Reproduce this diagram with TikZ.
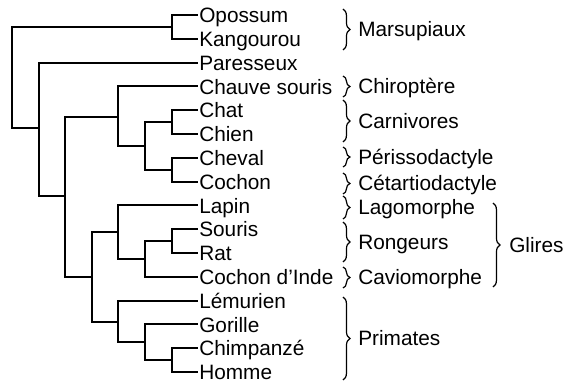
\documentclass[tikz,border=0pt]{standalone}
\usepackage{fontspec}
\setmainfont{Liberation Sans}
\usetikzlibrary{decorations.pathreplacing}
\begin{document}
\begin{tikzpicture}[x=0.75pt,y=-0.75pt,
  branch/.style={line width=1.5pt, line join=miter},
  taxon/.style={anchor=base west, inner sep=0pt, font=\fontsize{15.6pt}{18pt}\selectfont},
  grp/.style={decorate, decoration={brace, amplitude=5.2pt}, line width=0.9pt},
  grplabel/.style={anchor=base west, inner sep=0pt, font=\fontsize{15.6pt}{18pt}\selectfont}]
\useasboundingbox (0,0) rectangle (565,381);

% leaves
\foreach \i/\nm in {0/Opossum, 1/Kangourou, 2/Paresseux, 3/Chauve souris,
  4/Chat, 5/Chien, 6/Cheval, 7/Cochon, 8/Lapin, 9/Souris, 10/Rat,
  11/Cochon d’Inde, 12/Lémurien, 13/Gorille, 14/Chimpanzé, 15/Homme} {
  \coordinate (l\i) at (198, {15+23.8*\i});
  \node[taxon] (t\i) at (199, {22.8+23.8*\i}) {\nm};
}

% internal nodes
\coordinate (R)  at (12, 77);
\coordinate (M)  at (172, 27);
\coordinate (P)  at (39, 128);
\coordinate (B)  at (65, 196);
\coordinate (L)  at (118, 117);
\coordinate (F)  at (145, 146);
\coordinate (CC) at (172, 122);
\coordinate (CV) at (172, 170);
\coordinate (E)  at (92, 277);
\coordinate (G)  at (118, 232);
\coordinate (Ro) at (145, 259);
\coordinate (SR) at (172, 241);
\coordinate (Pr) at (118, 322);
\coordinate (Ha) at (145, 342);
\coordinate (CH) at (172, 360);

\draw[branch] (R) |- (M);
\draw[branch] (R) |- (P);
\draw[branch] (M) |- (l0);
\draw[branch] (M) |- (l1);
\draw[branch] (P) |- (l2);
\draw[branch] (P) |- (B);
\draw[branch] (B) |- (L);
\draw[branch] (B) |- (E);
\draw[branch] (L) |- (l3);
\draw[branch] (L) |- (F);
\draw[branch] (F) |- (CC);
\draw[branch] (F) |- (CV);
\draw[branch] (CC) |- (l4);
\draw[branch] (CC) |- (l5);
\draw[branch] (CV) |- (l6);
\draw[branch] (CV) |- (l7);
\draw[branch] (E) |- (G);
\draw[branch] (E) |- (Pr);
\draw[branch] (G) |- (l8);
\draw[branch] (G) |- (Ro);
\draw[branch] (Ro) |- (SR);
\draw[branch] (Ro) |- (l11);
\draw[branch] (SR) |- (l9);
\draw[branch] (SR) |- (l10);
\draw[branch] (Pr) |- (l12);
\draw[branch] (Pr) |- (Ha);
\draw[branch] (Ha) |- (l13);
\draw[branch] (Ha) |- (CH);
\draw[branch] (CH) |- (l14);
\draw[branch] (CH) |- (l15);

% braces and group labels
\foreach \top/\bot/\lab in {9/50/Marsupiaux, 76/97/Chiroptère, 100/142/Carnivores,
  147/167/Périssodactyle, 173/194/Cétartiodactyle, 196/219/Lagomorphe,
  222/262/Rongeurs, 267/288/Caviomorphe, 297/380/Primates} {
  \draw[grp] (343,\top) -- (343,\bot);
  \node[grplabel] at (358, {(\top+\bot)/2+7.5}) {\lab};
}
\draw[grp] (493,203) -- (493,287);
\node[grplabel] (glires) at (509, 252.5) {Glires};
\end{tikzpicture}
\end{document}
